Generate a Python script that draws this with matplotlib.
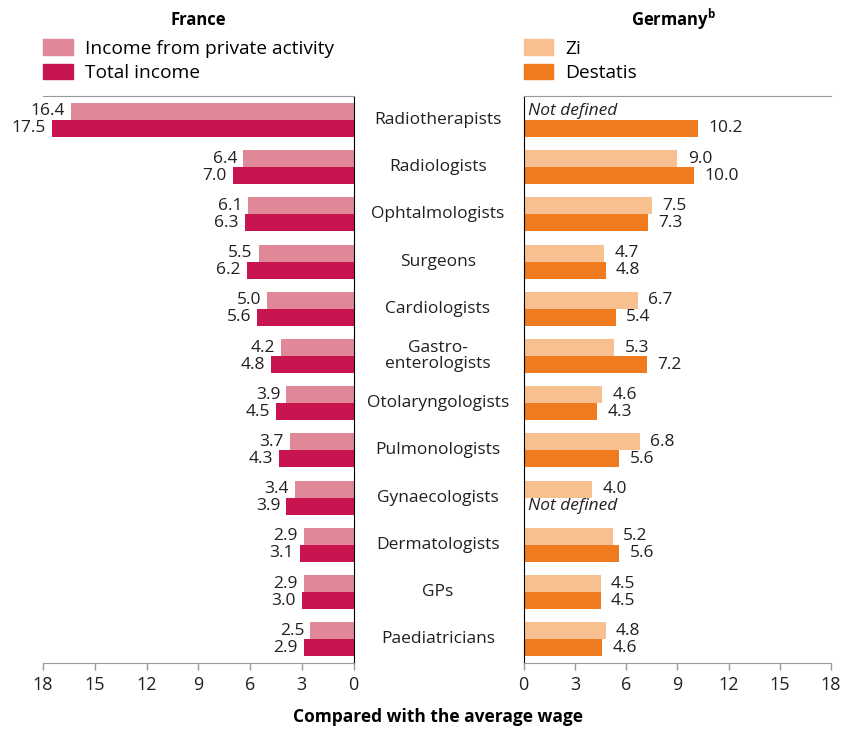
import matplotlib.pyplot as plt
import numpy as np
from matplotlib.patches import Patch
from matplotlib.transforms import blended_transform_factory

categories = ['Radiotherapists', 'Radiologists', 'Ophtalmologists', 'Surgeons',
              'Cardiologists', 'Gastro-\nenterologists', 'Otolaryngologists',
              'Pulmonologists', 'Gynaecologists', 'Dermatologists', 'GPs',
              'Paediatricians']
fr_private = [16.4, 6.4, 6.1, 5.5, 5.0, 4.2, 3.9, 3.7, 3.4, 2.9, 2.9, 2.5]
fr_total = [17.5, 7.0, 6.3, 6.2, 5.6, 4.8, 4.5, 4.3, 3.9, 3.1, 3.0, 2.9]
de_zi = [None, 9.0, 7.5, 4.7, 6.7, 5.3, 4.6, 6.8, 4.0, 5.2, 4.5, 4.8]
de_destatis = [10.2, 10.0, 7.3, 4.8, 5.4, 7.2, 4.3, 5.6, None, 5.6, 4.5, 4.6]
ticks = [0, 3, 6, 9, 12, 15, 18]

fr_light, fr_dark = '#E08898', '#C8154F'
de_light, de_dark = '#F8C090', '#F07A1E'
txt = '#231F20'
grey = '#999999'

plt.rcParams['font.family'] = ['Open Sans', 'DejaVu Sans']

fig = plt.figure(figsize=(8.42, 7.29), dpi=100)
axl = fig.add_axes([0.051, 0.0905, 0.369, 0.7775])
axr = fig.add_axes([0.622, 0.0905, 0.365, 0.7775])

y = np.arange(len(categories))
h = 0.36
fs = 12.5

for ax in (axl, axr):
    ax.set_xlim(0, 18)
    ax.set_ylim(len(categories) - 0.5, -0.5)
    ax.set_xticks(ticks)
    ax.set_yticks([])
    ax.tick_params(axis='x', colors=grey, length=5, width=1, labelsize=13,
                   labelcolor=txt, pad=4)
    for s in ('top', 'bottom'):
        ax.spines[s].set_color(grey)
axl.invert_xaxis()
axl.spines['left'].set_visible(False)
axl.spines['right'].set_color('black')
axr.spines['right'].set_visible(False)
axr.spines['left'].set_color('black')

axl.barh(y - h / 2, fr_private, height=h, color=fr_light)
axl.barh(y + h / 2, fr_total, height=h, color=fr_dark)
for i in range(len(categories)):
    axl.text(fr_private[i] + 0.35, y[i] - h / 2, f'{fr_private[i]:.1f}', ha='right',
             va='center', fontsize=fs, color=txt)
    axl.text(fr_total[i] + 0.35, y[i] + h / 2, f'{fr_total[i]:.1f}', ha='right',
             va='center', fontsize=fs, color=txt)

for i in range(len(categories)):
    for val, off, col in ((de_zi[i], -h / 2, de_light), (de_destatis[i], h / 2, de_dark)):
        if val is None:
            axr.text(0.25, y[i] + off, 'Not defined', ha='left', va='center',
                     fontsize=fs, style='italic', color=txt)
        else:
            axr.barh(y[i] + off, val, height=h, color=col)
            axr.text(val + 0.6, y[i] + off, f'{val:.1f}', ha='left', va='center',
                     fontsize=fs, color=txt)

tr = blended_transform_factory(fig.transFigure, axl.transData)
for i, c in enumerate(categories):
    fig.text(0.52, y[i], c, transform=tr, ha='center', va='center', fontsize=fs,
             color=txt, linespacing=1.0)

fig.text(0.235, 0.973, 'France', ha='center', va='center', fontsize=12,
         weight='bold', color='black')
fig.text(0.80, 0.973, r'Germany$^\mathregular{b}$', ha='center', va='center',
         fontsize=12, weight='bold', color='black')
fig.text(0.52, 0.016, 'Compared with the average wage', ha='center', va='center',
         fontsize=12.5, weight='bold', color='black')

leg_kw = dict(loc='lower left', bbox_to_anchor=(0.0, 1.025), frameon=False,
              fontsize=13.8, borderpad=0, borderaxespad=0, handlelength=1.55,
              handleheight=0.88, labelspacing=0.3, handletextpad=0.62)
axl.legend([Patch(color=fr_light), Patch(color=fr_dark)],
           ['Income from private activity', 'Total income'], **leg_kw)
axr.legend([Patch(color=de_light), Patch(color=de_dark)], ['Zi', 'Destatis'],
           **leg_kw)

fig.savefig('out.png', dpi=100)
